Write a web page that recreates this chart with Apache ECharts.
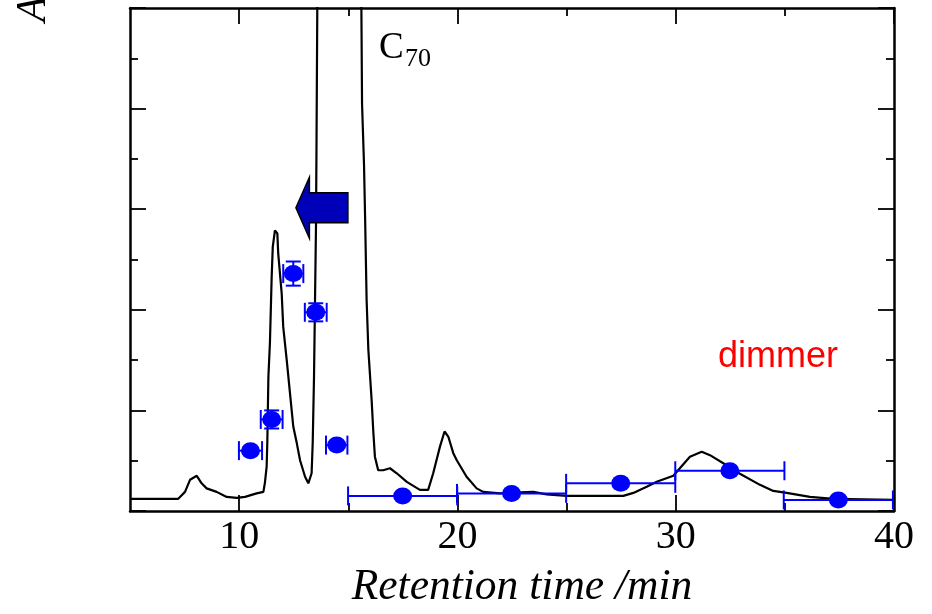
<!DOCTYPE html>
<html>
<head>
<meta charset="utf-8">
<script src="https://cdn.jsdelivr.net/npm/echarts@6/dist/echarts.min.js"></script>
<style>html,body{margin:0;padding:0;background:#fff;}#c{width:932px;height:614px;}</style>
</head>
<body>
<div id="c"></div>
<script>
// Chromatogram trace (retention time /min, absorbance in arbitrary units)
var chromX = [5.00, 7.20, 7.29, 7.52, 7.75, 8.06, 8.28, 8.51, 8.97, 9.43, 9.89, 10.27, 10.80, 11.11, 11.18, 11.26, 11.29, 11.34, 11.41, 11.49, 11.54, 11.64, 11.75, 11.79, 11.95, 12.02, 12.18, 12.33, 12.48, 12.64, 12.79, 13.02, 13.17, 13.32, 13.37, 13.43, 13.47, 13.52, 13.54, 13.58, 13.60, 14.60, 15.58, 15.60, 15.63, 15.72, 15.77, 15.84, 15.92, 16.07, 16.15, 16.22, 16.37, 16.60, 16.91, 17.22, 17.68, 18.28, 18.66, 18.89, 19.20, 19.41, 19.58, 19.81, 19.97, 20.42, 20.88, 21.18, 21.95, 22.87, 23.47, 24.09, 25.00, 27.60, 28.06, 28.67, 29.13, 29.89, 30.19, 30.65, 31.19, 31.57, 32.18, 32.94, 33.86, 34.47, 35.08, 36.15, 37.22, 40.00];
var chromY = [0.24, 0.24, 0.28, 0.38, 0.62, 0.70, 0.55, 0.45, 0.38, 0.28, 0.26, 0.28, 0.35, 0.38, 0.56, 0.88, 1.35, 2.67, 3.34, 4.65, 5.25, 5.58, 5.52, 5.12, 4.32, 3.66, 3.00, 2.34, 1.68, 1.35, 1.01, 0.68, 0.55, 0.75, 1.35, 2.67, 3.99, 5.65, 7.00, 10.00, 11.00, 30.00, 11.00, 10.00, 8.10, 6.90, 5.85, 4.19, 3.20, 2.20, 1.55, 1.08, 0.81, 0.81, 0.85, 0.75, 0.58, 0.42, 0.42, 0.75, 1.28, 1.58, 1.48, 1.15, 1.01, 0.68, 0.45, 0.38, 0.35, 0.37, 0.38, 0.33, 0.30, 0.30, 0.36, 0.48, 0.58, 0.70, 0.85, 1.08, 1.18, 1.11, 0.95, 0.74, 0.52, 0.40, 0.36, 0.28, 0.24, 0.22];

// Measured points with error bars
var ptX    = [10.52, 11.49, 12.48, 13.51, 14.47, 17.49, 22.48, 27.48, 32.48, 37.45];
var ptY    = [1.20, 1.82, 4.72, 3.95, 1.31, 0.30, 0.35, 0.55, 0.80, 0.22];
var ptXErr = [0.53, 0.50, 0.46, 0.50, 0.49, 2.50, 2.50, 2.50, 2.50, 2.50];
var ptYErr = [0.00, 0.18, 0.24, 0.18, 0.00, 0.00, 0.00, 0.00, 0.00, 0.00];

// Axis ticks
var xMajorTicks = [10, 20, 30, 40];
var xMinorTicks = [15, 25, 35];

var serif = '"Liberation Serif","Times New Roman",Times,serif';

var chromData = chromX.map(function (x, i) { return [x, chromY[i]]; });
var ptData = ptX.map(function (x, i) { return [x, ptY[i]]; });
var errData = ptX.map(function (x, i) { return [x, ptY[i], ptXErr[i], ptYErr[i]]; });

var chart = echarts.init(document.getElementById('c'), null, { renderer: 'canvas' });

function xAxisDef(pos, major) {
  return {
    type: 'value', min: 5, max: 40, position: pos,
    axisLine: { show: major, lineStyle: { color: '#000', width: 2.5 } },
    axisTick: { show: true, inside: true, length: major ? 16 : 8,
      customValues: major ? xMajorTicks : xMinorTicks,
      lineStyle: { color: '#000', width: 1.8 } },
    axisLabel: { show: major && pos === 'bottom', customValues: xMajorTicks,
      fontSize: 40, fontFamily: serif, color: '#000', margin: 6 },
    splitLine: { show: false }
  };
}
function yAxisDef(pos) {
  return {
    type: 'value', min: 0, max: 10, interval: 2, position: pos,
    axisLine: { show: true, lineStyle: { color: '#000', width: 2.5 } },
    axisTick: { show: true, inside: true, length: 16, lineStyle: { color: '#000', width: 1.8 } },
    minorTick: { show: true, splitNumber: 2, length: 8, lineStyle: { color: '#000', width: 1.8 } },
    axisLabel: { show: false },
    splitLine: { show: false },
    minorSplitLine: { show: false }
  };
}

var option = {
  animation: false,
  backgroundColor: '#fff',
  grid: { left: 130, right: 38, top: 8, bottom: 103 },
  xAxis: [xAxisDef('bottom', true), xAxisDef('bottom', false), xAxisDef('top', true), xAxisDef('top', false)],
  yAxis: [yAxisDef('left'), yAxisDef('right')],
  series: [
    {
      type: 'line', data: chromData, xAxisIndex: 0, yAxisIndex: 0,
      showSymbol: false, symbol: 'none', clip: true,
      lineStyle: { color: '#000', width: 2.2 }, z: 2
    },
    {
      type: 'custom', data: errData, xAxisIndex: 0, yAxisIndex: 0, z: 3,
      encode: { x: 0, y: 1 },
      renderItem: function (params, api) {
        var x = api.value(0), y = api.value(1), xe = api.value(2), ye = api.value(3);
        var l = api.coord([x - xe, y]), r = api.coord([x + xe, y]);
        var st = { stroke: '#0000ff', lineWidth: 2 };
        var cap = 9.5;
        var ch = [
          { type: 'line', shape: { x1: l[0], y1: l[1], x2: r[0], y2: r[1] }, style: st },
          { type: 'line', shape: { x1: l[0], y1: l[1] - cap, x2: l[0], y2: l[1] + cap }, style: st },
          { type: 'line', shape: { x1: r[0], y1: r[1] - cap, x2: r[0], y2: r[1] + cap }, style: st }
        ];
        if (ye > 0) {
          var t = api.coord([x, y + ye]), b = api.coord([x, y - ye]);
          var hc = 7.5;
          ch.push({ type: 'line', shape: { x1: t[0], y1: t[1], x2: b[0], y2: b[1] }, style: st });
          ch.push({ type: 'line', shape: { x1: t[0] - hc, y1: t[1], x2: t[0] + hc, y2: t[1] }, style: st });
          ch.push({ type: 'line', shape: { x1: b[0] - hc, y1: b[1], x2: b[0] + hc, y2: b[1] }, style: st });
        }
        return { type: 'group', children: ch };
      }
    },
    {
      type: 'scatter', data: ptData, xAxisIndex: 0, yAxisIndex: 0, z: 4,
      symbol: 'circle', symbolSize: [19, 17],
      itemStyle: { color: '#0000ff', opacity: 1 }
    }
  ]
};
chart.setOption(option);

// Annotations
var tip = chart.convertToPixel({ xAxisIndex: 0, yAxisIndex: 0 }, [12.60, 6.03]);
var tx = tip[0], ty = tip[1];
chart.setOption({
  graphic: [
    {
      type: 'polygon', z: 10,
      shape: { points: [[tx, ty], [tx + 13.5, ty - 30.5], [tx + 13.5, ty - 15], [tx + 52, ty - 15], [tx + 52, ty + 15], [tx + 13.5, ty + 15], [tx + 13.5, ty + 30.5]] },
      style: { fill: '#0000b8', stroke: '#000', lineWidth: 1.5 }
    },
    { type: 'text', x: 379, y: 48, z: 10,
      style: { text: 'C', font: '37px ' + serif, fill: '#000', align: 'left', verticalAlign: 'middle', textAlign: 'left', textVerticalAlign: 'middle' } },
    { type: 'text', x: 405, y: 59, z: 10,
      style: { text: '70', font: '26px ' + serif, fill: '#000', align: 'left', verticalAlign: 'middle', textAlign: 'left', textVerticalAlign: 'middle' } },
    { type: 'text', x: 718, y: 357, z: 10,
      style: { text: 'dimmer', font: '36px "Liberation Sans", Arial, sans-serif', fill: '#ff0000', align: 'left', verticalAlign: 'middle', textAlign: 'left', textVerticalAlign: 'middle' } },
    { type: 'text', x: 522, y: 588, z: 10,
      style: { text: 'Retention time /min', font: 'italic 43.5px ' + serif, fill: '#000', align: 'center', verticalAlign: 'middle', textAlign: 'center', textVerticalAlign: 'middle' } },
    { type: 'text', x: 34, y: 22, rotation: Math.PI / 2, z: 10,
      style: { text: 'Absorbance', font: 'italic 42px ' + serif, fill: '#000', align: 'left', verticalAlign: 'middle', textAlign: 'left', textVerticalAlign: 'middle' } }
  ]
});
</script>
</body>
</html>
